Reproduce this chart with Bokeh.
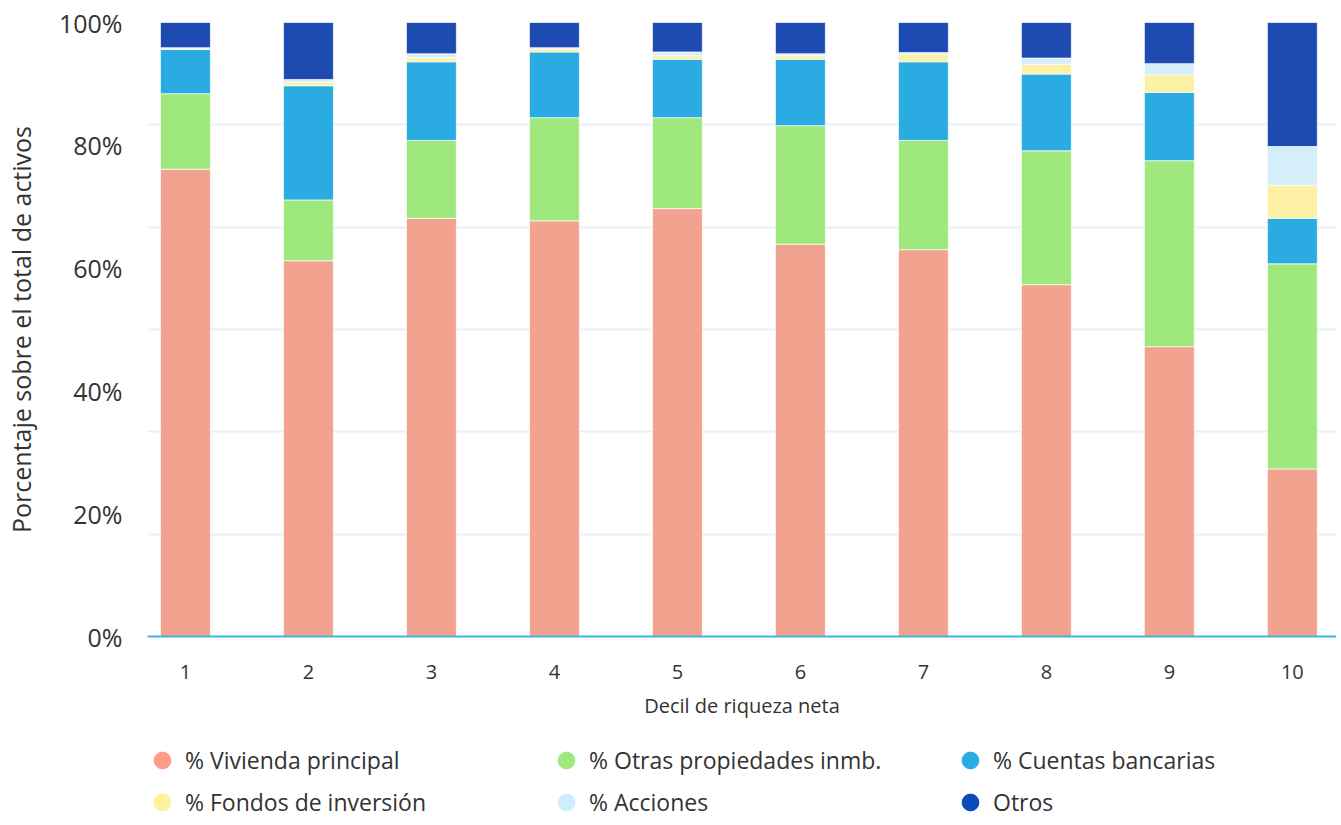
from bokeh.plotting import figure
from bokeh.layouts import column
from bokeh.models import (ColumnDataSource, Range1d, FixedTicker, PrintfTickFormatter,
                          Legend, LegendItem)
from bokeh.embed import file_html
from bokeh.resources import INLINE

deciles = [1, 2, 3, 4, 5, 6, 7, 8, 9, 10]
decile_labels = ["1", "2", "3", "4", "5", "6", "7", "8", "9", "10"]
vivienda = [76.1, 61.2, 68.1, 67.7, 69.7, 63.9, 63.0, 57.3, 47.2, 27.3]
otras_prop = [12.3, 9.9, 12.7, 16.8, 14.8, 19.3, 17.8, 21.8, 30.3, 33.4]
cuentas = [7.2, 18.6, 12.8, 10.7, 9.5, 10.8, 12.8, 12.5, 11.1, 7.4]
fondos = [0.1, 0.6, 0.65, 0.5, 0.6, 0.6, 1.2, 1.6, 2.9, 5.4]
acciones = [0.2, 0.4, 0.65, 0.2, 0.6, 0.3, 0.3, 1.0, 1.8, 6.3]
otros = [4.1, 9.3, 5.1, 4.1, 4.8, 5.1, 4.9, 5.8, 6.7, 20.2]

series_keys = ["vivienda", "otras_prop", "cuentas", "fondos", "acciones", "otros"]
series_names = ["% Vivienda principal", "% Otras propiedades inmb.", "% Cuentas bancarias",
                "% Fondos de inversión", "% Acciones", "Otros"]
bar_colors = ["#F1A390", "#9EE87E", "#2AABE2", "#FBF0A3", "#D4EEFA", "#1E4BB2"]
legend_colors = ["#FF9C88", "#9EE87E", "#2AABE2", "#FFF09A", "#CDEEFF", "#0A4BB9"]

y_ticks = [0, 20, 40, 60, 80, 100]
FONT = "Open Sans"
TXT = "#333333"

source = ColumnDataSource(dict(x=deciles, vivienda=vivienda, otras_prop=otras_prop,
                               cuentas=cuentas, fondos=fondos, acciones=acciones, otros=otros))

# ---------------- main chart ----------------
p = figure(width=1336, height=724, output_backend="svg", toolbar_location=None,
           x_range=Range1d(0.6916, 10.359), y_range=Range1d(0, 100),
           min_border_top=22, min_border_right=0, min_border_left=10,
           min_border_bottom=88)
p.outline_line_color = None

p.vbar_stack(series_keys, x="x", width=0.406, color=bar_colors, source=source,
             line_color="white", line_width=1, line_alpha=0.7)

p.xaxis.ticker = FixedTicker(ticks=deciles)
p.xaxis.major_label_overrides = {d: l for d, l in zip(deciles, decile_labels)}
p.xaxis.axis_label = "Decil de riqueza neta"
p.xaxis.axis_line_color = "#3DB5EA"
p.xaxis.axis_line_width = 2
p.xaxis.major_tick_line_color = None
p.xaxis.minor_tick_line_color = None
p.xaxis.major_label_standoff = 22
p.xaxis.axis_label_standoff = 10
p.xaxis.major_label_text_font = FONT
p.xaxis.major_label_text_font_size = "20px"
p.xaxis.major_label_text_color = TXT
p.xaxis.axis_label_text_font = FONT
p.xaxis.axis_label_text_font_size = "20px"
p.xaxis.axis_label_text_font_style = "normal"
p.xaxis.axis_label_text_color = TXT

p.yaxis.ticker = FixedTicker(ticks=y_ticks)
p.yaxis.formatter = PrintfTickFormatter(format="%d%%")
p.yaxis.axis_label = "Porcentaje sobre el total de activos"
p.yaxis.axis_line_color = None
p.yaxis.major_tick_line_color = None
p.yaxis.minor_tick_line_color = None
p.yaxis.major_tick_out = 0
p.yaxis.major_tick_in = 0
p.yaxis.major_label_standoff = 25
p.yaxis.axis_label_standoff = 18
p.yaxis.major_label_text_font = FONT
p.yaxis.major_label_text_font_size = "25px"
p.yaxis.major_label_text_color = TXT
p.yaxis.axis_label_text_font = FONT
p.yaxis.axis_label_text_font_size = "25px"
p.yaxis.axis_label_text_font_style = "normal"
p.yaxis.axis_label_text_color = TXT

p.xgrid.grid_line_color = None
p.ygrid.ticker = FixedTicker(ticks=[100.0 * i / 6 for i in range(7)])
p.ygrid.grid_line_color = "#E3F1FA"
p.ygrid.grid_line_width = 2

# ---------------- legend strip ----------------
lg = figure(width=1336, height=100, output_backend="svg", toolbar_location=None,
            x_range=Range1d(0, 1), y_range=Range1d(0, 1), min_border=0)
lg.axis.visible = False
lg.grid.grid_line_color = None
lg.outline_line_color = None

items = []
for key, name, col in zip(series_keys, series_names, legend_colors):
    r = lg.scatter(x="x", y=key, source=source, marker="circle", size=0,
                   fill_color=col, line_color=col)
    items.append(LegendItem(label=name, renderers=[r]))

legend = Legend(items=items, ncols=3, orientation="horizontal", location=(-8, 1),
                glyph_width=46, glyph_height=42, label_standoff=0, label_width=358,
                spacing=0, padding=0, margin=0,
                border_line_color=None, background_fill_alpha=0,
                label_text_font=FONT, label_text_font_size="23px", label_text_color=TXT)
lg.add_layout(legend, "center")

open("out.html", "w").write(file_html(column(p, lg, spacing=0), INLINE))
